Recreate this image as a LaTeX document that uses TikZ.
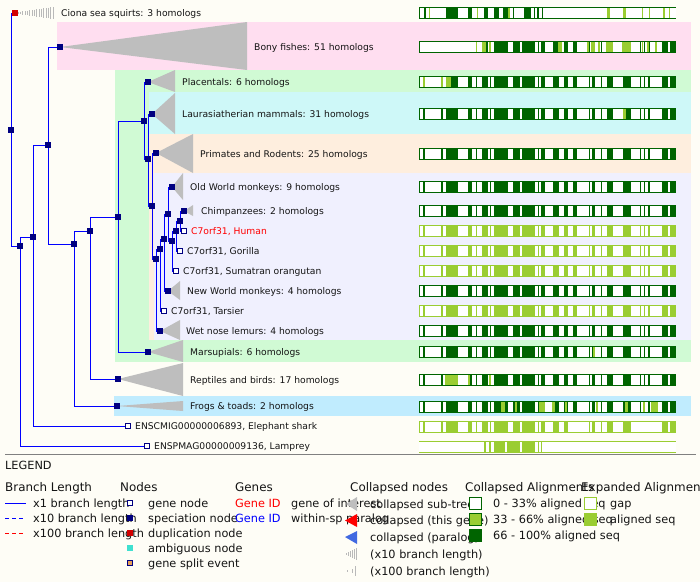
\documentclass[tikz,border=0pt]{standalone}
\usepackage{fontspec}
\setmainfont{DejaVu Sans}
\pgfdeclarelayer{bands}
\pgfdeclarelayer{edges}
\pgfsetlayers{bands,edges,main}
\definecolor{bgc}{RGB}{254,253,246}
\definecolor{pinkb}{RGB}{255,222,240}
\definecolor{greenb}{RGB}{208,250,212}
\definecolor{cyanb}{RGB}{206,248,248}
\definecolor{peachb}{RGB}{254,238,222}
\definecolor{lavb}{RGB}{240,240,254}
\definecolor{frogb}{RGB}{192,236,254}
\definecolor{navyc}{RGB}{0,0,128}
\definecolor{brc}{RGB}{0,0,255}
\definecolor{triac}{RGB}{190,190,190}
\definecolor{combc}{RGB}{185,185,185}
\definecolor{dk}{RGB}{0,100,0}
\definecolor{lt}{RGB}{154,205,50}
\definecolor{redc}{RGB}{210,0,0}
\definecolor{txtc}{RGB}{20,20,20}
\definecolor{gidred}{RGB}{255,0,0}
\definecolor{gidblue}{RGB}{0,0,255}
\definecolor{royal}{RGB}{65,105,225}
\definecolor{turq}{RGB}{64,224,208}
\definecolor{splitc}{RGB}{230,160,90}
\def\gaps{1/4.3,6/22,24.3/26.7,39/49,53/56.7,58/63,68.7/71,72.3/75,89/94,101/103.3,116/118.7,120.3/121.7,125.7/133.7,140/145,149/154,158/169.7,171/173,176/182,183/187.7,194/204,212/221,222.3/225.3,226.3/229,231/243,248.7/250.7}
\newcommand\alnbar[3]{%
  \fill[#2] (419,#1-6) rectangle (676,#1+6);
  \foreach \a/\b in #3 {\fill[white] (419+\a,#1-5) rectangle (419+\b,#1+5);}
}
\newcommand\alnsegs[3]{%
  \foreach \a/\b in {#3} {\fill[#2] (419+\a,#1-5) rectangle (419+\b,#1+5);}
}
\newcommand\alnempty[2]{%
  \fill[white] (419,#1-6) rectangle (676,#1+6);
  \fill[#2] (419,#1-6) rectangle (676,#1-5);
  \fill[#2] (419,#1+5) rectangle (676,#1+6);
}
\tikzset{
  specnode/.style={rectangle, fill=navyc, minimum size=6pt, inner sep=0pt, draw=none},
  dupnode/.style={specnode, fill=redc},
  genenode/.style={rectangle, draw=navyc, fill=white, minimum size=4.4pt, inner sep=0pt, line width=0.8pt},
  br/.style={draw=brc, line width=0.9pt},
  tri/.style={fill=triac},
  lbl/.style={anchor=west, inner sep=0pt, text height=7pt, text depth=0pt, font=\fontsize{9.2}{11}\selectfont, text=txtc},
  leg/.style={anchor=west, inner sep=0pt, text height=8.2pt, text depth=0pt, font=\fontsize{11.3}{13}\selectfont, text=txtc},
  legh/.style={anchor=west, inner sep=0pt, text height=8.6pt, text depth=0pt, font=\fontsize{11.9}{14}\selectfont, text=txtc},
}
\begin{document}
\begin{tikzpicture}[x=1pt,y=-1pt]
\useasboundingbox (0,0) rectangle (700,582);
\clip (0,0) rectangle (700,582);
\begin{pgfonlayer}{bands}
\fill[bgc] (0,0) rectangle (700,582);
\fill[pinkb] (57,22) rectangle (691,70);
\fill[greenb] (115,70) rectangle (691,362);
\fill[cyanb] (149,92) rectangle (691,134);
\fill[peachb] (149,134) rectangle (691,340);
\fill[lavb] (153.5,173) rectangle (691,340);
\fill[frogb] (114,396) rectangle (691,416);
\draw[gray, line width=0.8pt] (5,454) -- (696,454);
\end{pgfonlayer}

% ---- tree nodes ----
\node[specnode] (R) at (11,130) {};
\node[dupnode] (Ci) at (15,13) {};
\node[specnode] (A) at (20,246) {};
\node[specnode] (B) at (33,237) {};
\node[specnode] (C) at (48,145) {};
\node[specnode] (BF) at (60,47) {};
\node[specnode] (D) at (74,244) {};
\node[specnode] (E) at (90,231) {};
\node[specnode] (F) at (118,217) {};
\node[specnode] (Fr) at (117,406) {};
\node[specnode] (Rep) at (118,379) {};
\node[specnode] (G) at (144,121) {};
\node[specnode] (Mar) at (148,352) {};
\node[specnode] (Pl) at (148,82) {};
\node[specnode] (H) at (148,159) {};
\node[specnode] (La) at (152,114) {};
\node[specnode] (I) at (152,206) {};
\node[specnode] (PR) at (156,153) {};
\node[specnode] (P1) at (156,259) {};
\node[specnode] (Lem) at (160,331) {};
\node[specnode] (L) at (160,249) {};
\node[genenode] (Tar) at (164,311) {};
\node[specnode] (K) at (164,239) {};
\node[specnode] (NWM) at (168,291) {};
\node[specnode] (J) at (168,214) {};
\node[specnode] (OWM) at (172,187) {};
\node[specnode] (M) at (172,241) {};
\node[genenode] (Ora) at (176,271) {};
\node[specnode] (N) at (176,231) {};
\node[genenode] (Gor) at (180,251) {};
\node[specnode] (P7) at (180,221) {};
\node[genenode] (Hum) at (184,231) {};
\node[specnode] (Chi) at (184,211) {};
\node[genenode] (Sha) at (128,426) {};
\node[genenode] (Lam) at (147,446) {};

\begin{pgfonlayer}{edges}
% collapsed triangles
\fill[tri] (BF.center) -- (247,22) -- (247,70) -- cycle;
\fill[tri] (Pl.center) -- (175,70) -- (175,92) -- cycle;
\fill[tri] (La.center) -- (175,93) -- (175,134) -- cycle;
\fill[tri] (PR.center) -- (193,134) -- (193,173) -- cycle;
\fill[tri] (OWM.center) -- (183,173) -- (183,200) -- cycle;
\fill[tri] (Chi.center) -- (193,205) -- (193,216) -- cycle;
\fill[tri] (NWM.center) -- (180,281) -- (180,300) -- cycle;
\fill[tri] (Lem.center) -- (180,320) -- (180,340) -- cycle;
\fill[tri] (Mar.center) -- (183,340) -- (183,362) -- cycle;
\fill[tri] (Rep.center) -- (183,363) -- (183,396) -- cycle;
\fill[tri] (Fr.center) -- (183,401) -- (183,411) -- cycle;
% Ciona x10 comb
\foreach \i in {0,...,15} {
  \pgfmathsetmacro\xx{18+\i*2.33}
  \pgfmathsetmacro\hh{1+\i*0.33}
  \draw[combc, line width=0.7pt] (\xx,13-\hh) -- (\xx,13+\hh);
}
% branches
\foreach \p/\c in {R/Ci, R/A, A/B, A/Lam, B/C, B/Sha, C/BF, C/D, D/E, D/Fr, E/F, E/Rep, F/G, F/Mar, G/Pl, G/H, H/La, H/I, I/PR, I/P1, P1/Lem, P1/L, L/Tar, L/K, K/NWM, K/J, J/OWM, J/M, M/Ora, M/N, N/Gor, N/P7, P7/Hum, P7/Chi}
  \draw[br] (\p.center) |- (\c.center);
\end{pgfonlayer}

% ---- tree labels ----
\node[lbl] (tCi) at (61,13) {Ciona sea squirts: 3 homologs};
\node[lbl] (tBF) at (254,47) {Bony fishes: 51 homologs};
\node[lbl] (tPl) at (182,82) {Placentals: 6 homologs};
\node[lbl] (tLa) at (182,114) {Laurasiatherian mammals: 31 homologs};
\node[lbl] (tPR) at (200,154) {Primates and Rodents: 25 homologs};
\node[lbl] (tOWM) at (190,187) {Old World monkeys: 9 homologs};
\node[lbl] (tChi) at (201,211) {Chimpanzees: 2 homologs};
\node[lbl, text=gidred] (tHum) at (191,231) {C7orf31, Human};
\node[lbl] (tGor) at (187,251) {C7orf31, Gorilla};
\node[lbl] (tOra) at (183,271) {C7orf31, Sumatran orangutan};
\node[lbl] (tNWM) at (187,291) {New World monkeys: 4 homologs};
\node[lbl] (tTar) at (171,311) {C7orf31, Tarsier};
\node[lbl] (tLem) at (186,331) {Wet nose lemurs: 4 homologs};
\node[lbl] (tMar) at (190,352) {Marsupials: 6 homologs};
\node[lbl] (tRep) at (190,380) {Reptiles and birds: 17 homologs};
\node[lbl] (tFr) at (190,406) {Frogs \& toads: 2 homologs};
\node[lbl] (tSha) at (135,426) {ENSCMIG00000006893, Elephant shark};
\node[lbl] (tLam) at (154,446) {ENSPMAG00000009136, Lamprey};

% ---- alignment bars ----
\alnempty{13}{dk}
\alnsegs{13}{dk}{0/1,5/6.7,27/38.7,49/52.7,65/68.7,75/79.7,84/88.7,94.3/95,105/111.7,115/116,118/119.7,122.7/123.7}
\alnsegs{13}{lt}{10/11,57.7/59,88.7/91,188/191,203.7/207,223.3/224.3,230/231,244.3/246.3,250.3/251}
\alnbar{47}{dk}{\gaps}
\fill[white] (420,42) rectangle (476,52);
\alnsegs{47}{lt}{57/58,63/67,70/71.7,139/143,167.7/170,172/176.3,178.7/181,187/194,203/212,223.3/224.3,228.3/230.3,236/238}
\alnbar{82}{dk}{\gaps}
\alnsegs{82}{lt}{4.3/6,22/24.3,26.7/32}
\alnbar{114}{dk}{\gaps}
\alnsegs{114}{lt}{204.3/207}
\alnbar{154}{dk}{\gaps}
\alnbar{187}{dk}{\gaps}
\alnbar{211}{dk}{\gaps}
\alnbar{231}{lt}{\gaps}
\alnbar{251}{lt}{\gaps}
\alnbar{271}{lt}{\gaps}
\alnbar{291}{dk}{\gaps}
\alnbar{311}{lt}{\gaps}
\alnbar{331}{dk}{\gaps}
\alnbar{351.5}{dk}{\gaps}
\alnsegs{351.5}{lt}{173.7/176}
\alnbar{379.5}{dk}{\gaps}
\alnsegs{379.5}{lt}{26/38.7,49/51,69.7/71.7}
\alnbar{407}{dk}{\gaps}
\alnsegs{407}{lt}{81.7/86,96/97.7,120/126,133/136,146/147.7,177/178.7,206/209.3,224.3/226,231.7/239.3}
\alnbar{427}{lt}{\gaps}
\alnsegs{427}{white}{149/168.7,202/204.3,212/226,228.7/243}
\alnempty{447}{lt}
\alnsegs{447}{lt}{65/67,69.7/71.7,75/86,87.7/101,103.3/116,118.7/120.3,121.7/122.7}

% ---- legend texts ----
\node[leg] (lgT) at (5,465) {LEGEND};
\node[legh] (hBL) at (5,487) {Branch Length};
\node[legh] (hNo) at (120,487) {Nodes};
\node[legh] (hGe) at (235,487) {Genes};
\node[legh] (hCN) at (350,487) {Collapsed nodes};
\node[legh] (hCA) at (465,487) {Collapsed Alignments};
\node[legh] (hEA) at (581,487) {Expanded Alignments};
\node[leg] (bl1) at (33,503) {x1 branch length};
\node[leg] (bl2) at (33,518) {x10 branch length};
\node[leg] (bl3) at (33,533) {x100 branch length};
\node[leg] (nd1) at (148,503) {gene node};
\node[leg] (nd2) at (148,518) {speciation node};
\node[leg] (nd3) at (148,533) {duplication node};
\node[leg] (nd4) at (148,548) {ambiguous node};
\node[leg] (nd5) at (148,563) {gene split event};
\node[leg, text=gidred] (gi1) at (235,503) {Gene ID};
\node[leg] (gt1) at (291,503) {gene of interest};
\node[leg, text=gidblue] (gi2) at (235,518) {Gene ID};
\node[leg] (gt2) at (291,518) {within-sp paralog};
\node[leg] (cn1) at (370,504) {collapsed sub-tree};
\node[leg] (cn2) at (370,520.5) {collapsed (this gene)};
\node[leg] (cn3) at (370,537) {collapsed (paralog)};
\node[leg] (cn4) at (370,554) {(x10 branch length)};
\node[leg] (cn5) at (370,571) {(x100 branch length)};
\node[leg] (ca1) at (493,503) {0 - 33\% aligned seq};
\node[leg] (ca2) at (493,519) {33 - 66\% aligned seq};
\node[leg] (ca3) at (493,535) {66 - 100\% aligned seq};
\node[leg] (ea1) at (610,503) {gap};
\node[leg] (ea2) at (610,519) {aligned seq};

% ---- legend icons ----
\fill[brc] (5,502.5) rectangle (26,503.5);
\foreach \d in {5,12,19} {
  \fill[brc] (\d,517.5) rectangle (\d+4,518.5);
  \fill[gidred] (\d,532.5) rectangle (\d+4,533.5);
}
\node[genenode] (lgn) at (130,503) {};
\node[specnode] (lsn) at (130,518) {};
\node[dupnode] (ldn) at (130,533) {};
\node[specnode, fill=turq] (lan) at (130,548) {};
\node[specnode, fill=splitc, draw=navyc, line width=0.8pt, minimum size=5.2pt] (lgs) at (130,563) {};
\fill[triac] (346,504) -- (357,497) -- (357,511) -- cycle;
\fill[red] (345,520.5) -- (357,514) -- (357,527) -- cycle;
\fill[royal] (345,537) -- (357,531) -- (357,544) -- cycle;
\foreach \i in {0,...,5} {
  \pgfmathsetmacro\xx{346+\i*2.1}
  \pgfmathsetmacro\hh{1+\i*1}
  \draw[combc, line width=0.6pt] (\xx,554-\hh) -- (\xx,554+\hh);
}
\draw[combc, line width=0.6pt] (347,570) -- (347,572);
\draw[combc, line width=0.6pt] (352,569) -- (352,573);
\draw[combc, line width=0.6pt] (355,566) -- (355,576);
\node[rectangle, draw=dk, fill=white, line width=0.8pt, minimum size=12pt, inner sep=0pt] (cs1) at (475.5,503) {};
\node[rectangle, draw=dk, fill=lt, line width=0.8pt, minimum size=12pt, inner sep=0pt] (cs2) at (475.5,519) {};
\node[rectangle, fill=dk, minimum size=13pt, inner sep=0pt] (cs3) at (475.5,535) {};
\node[rectangle, draw=lt, fill=white, line width=0.8pt, minimum size=12pt, inner sep=0pt] (es1) at (590.5,503) {};
\node[rectangle, fill=lt, minimum size=13pt, inner sep=0pt] (es2) at (590.5,519) {};
\end{tikzpicture}
\end{document}
